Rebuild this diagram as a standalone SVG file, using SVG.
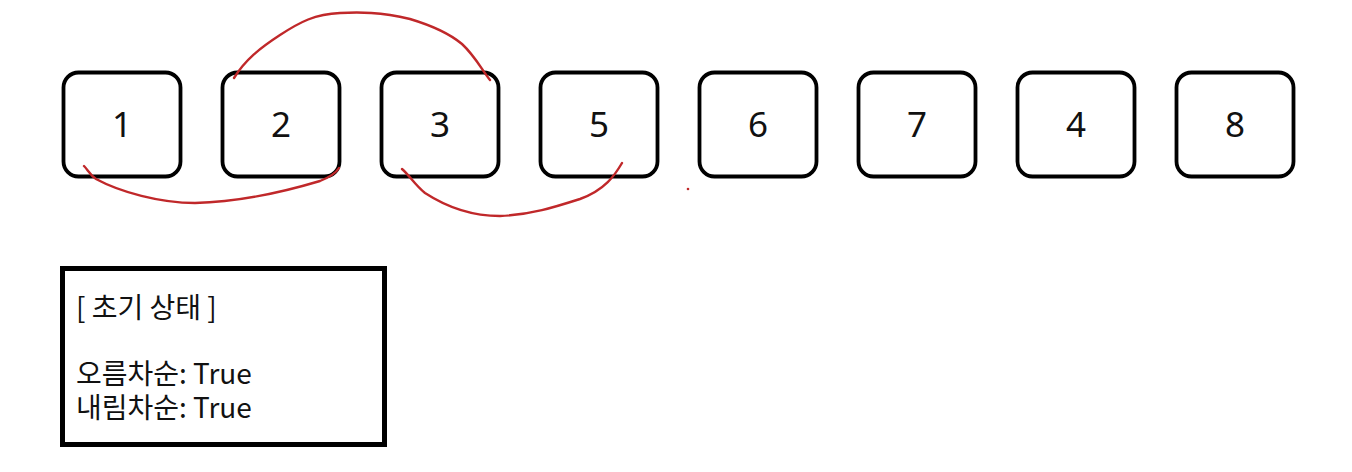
<svg xmlns="http://www.w3.org/2000/svg" width="1352" height="472" viewBox="0 0 1352 472">
<style>
.box{fill:#fff;stroke:#000;stroke-width:3.8}
.num{font-family:"Noto Sans","Noto Sans CJK KR",sans-serif;font-size:35px;fill:#111;text-anchor:middle}
.ink{fill:none;stroke:#c0282a;stroke-width:2.4;stroke-linecap:round;stroke-linejoin:round}
.st{font-family:"Noto Sans CJK KR","Noto Sans",sans-serif;font-size:28px;fill:#111}
</style>
<rect width="1352" height="472" fill="#fff"/>
<g id="node-1"><rect class="box" x="63.5" y="72.5" width="117" height="104" rx="15"/><text class="num" x="122" y="137">1</text></g>
<g id="node-2"><rect class="box" x="222.5" y="72.5" width="117" height="104" rx="15"/><text class="num" x="281" y="137">2</text></g>
<g id="node-3"><rect class="box" x="381.5" y="72.5" width="117" height="104" rx="15"/><text class="num" x="440" y="137">3</text></g>
<g id="node-5"><rect class="box" x="540.5" y="72.5" width="117" height="104" rx="15"/><text class="num" x="599" y="137">5</text></g>
<g id="node-6"><rect class="box" x="699.5" y="72.5" width="117" height="104" rx="15"/><text class="num" x="758" y="137">6</text></g>
<g id="node-7"><rect class="box" x="858.5" y="72.5" width="117" height="104" rx="15"/><text class="num" x="917" y="137">7</text></g>
<g id="node-4"><rect class="box" x="1017.5" y="72.5" width="117" height="104" rx="15"/><text class="num" x="1076" y="137">4</text></g>
<g id="node-8"><rect class="box" x="1176.5" y="72.5" width="117" height="104" rx="15"/><text class="num" x="1235" y="137">8</text></g>
<g id="connectors">
<path class="ink" d="M84,166 C88,170 90,175 96,179 C120,192 160,203 195,203 C240,202 290,190 320,181 C330,177 336,173 339,168"/>
<path class="ink" d="M234,78 C245,60 260,48 280,35 C300,22 315,14 340,13 C360,12 380,12 410,19 C430,25 450,34 462,44 C475,56 482,70 490,80"/>
<path class="ink" d="M402,169 C410,176 415,185 425,193 C445,206 470,216 500,216 C530,215 555,207 580,199 C605,190 615,175 622,163"/>
<circle cx="688" cy="189" r="1.3" fill="#c0282a"/>
</g>
<g id="status">
<rect x="62.5" y="268.5" width="322" height="176" fill="#fff" stroke="#000" stroke-width="5"/>
<text class="st" x="76" y="318">[ 초기 상태 ]</text>
<text class="st"><tspan x="76" y="384">오름차순: True</tspan><tspan x="76" y="418">내림차순: True</tspan></text>
</g>
</svg>
